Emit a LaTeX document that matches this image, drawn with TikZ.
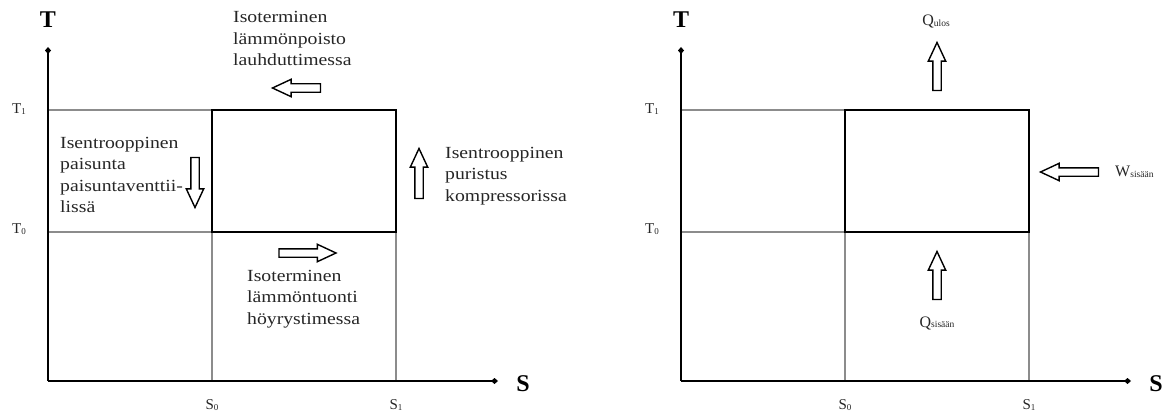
\documentclass[tikz,border=0pt]{standalone}
\usepackage{fontspec}
\setmainfont{Liberation Serif}
\newfontfamily\lblfont[FakeStretch=1.16]{Liberation Serif}
\usetikzlibrary{arrows.meta,shapes.arrows}
\newcommand{\lsub}[1]{\raisebox{-1.5pt}{\fontsize{9}{9}\selectfont #1}}
\newcommand{\qsub}[1]{\raisebox{-0.5pt}{\fontsize{9.5}{9.5}\selectfont #1}}
\tikzset{
  axisline/.style={line width=2.4pt, -{Diamond[length=7pt,width=6pt]}},
  guide/.style={line width=1.1pt, draw=black!45},
  cyclebox/.style={line width=2pt},
  barrow/.style={single arrow, draw=black, fill=white, line width=1.4pt,
    minimum height=#1, inner xsep=0pt, inner ysep=3.5pt, outer sep=0pt,
    single arrow head extend=4.5pt,
    single arrow tip angle=50, single arrow head indent=0pt},
  desc/.style={align=left, anchor=west, inner sep=0pt, text=black!85,
    font=\lblfont\fontsize{17}{21.5}\selectfont},
  axlabel/.style={inner sep=0pt, font=\bfseries\fontsize{24}{24}\selectfont},
  tick/.style={inner sep=0pt, text=black!85, font=\fontsize{15}{15}\selectfont},
  qlabel/.style={inner sep=0pt, text=black!85, font=\fontsize{16}{16}\selectfont},
}
\begin{document}
\begin{tikzpicture}[x=1pt,y=-1pt]
\useasboundingbox (0,0) rectangle (1170,412);
% ---------------- left diagram ----------------
\coordinate (LO) at (48,381);
\coordinate (LYt) at (48,47);
\coordinate (LXe) at (498,381);
\coordinate (LA) at (212,110);
\coordinate (LB) at (396,110);
\coordinate (LC) at (396,232);
\coordinate (LD) at (212,232);
\coordinate (LT1) at (48,110);
\coordinate (LT0) at (48,232);
\coordinate (LS0) at (212,381);
\coordinate (LS1) at (396,381);
\draw[guide] (LT1) -- (LA);
\draw[guide] (LT0) -- (LD);
\draw[guide] (LD) -- (LS0);
\draw[guide] (LC) -- (LS1);
\draw[cyclebox] (LA) -- (LB) -- (LC) -- (LD) -- cycle;
\draw[axisline] (LO) -- (LYt);
\draw[axisline] (LO) -- (LXe);
\node[axlabel] (lT) at (48,20) {T};
\node[axlabel] (lS) at (523,384) {S};
\node[tick] (lt1) at (19,109) {T\lsub{1}};
\node[tick] (lt0) at (19,229) {T\lsub{0}};
\node[tick] (ls0) at (212,405) {S\lsub{0}};
\node[tick] (ls1) at (396,405) {S\lsub{1}};
\node[barrow=48pt, rotate=180] (la1) at (301,88) {};
\node[barrow=50pt, rotate=-90] (la2) at (195,178) {};
\node[barrow=57pt] (la3) at (303,253) {};
\node[barrow=50pt, rotate=90] (la4) at (419,178) {};
\node[desc] (d1) at (233,38.5) {Isoterminen\\lämmönpoisto\\lauhduttimessa};
\node[desc] (d2) at (60,175) {Isentrooppinen\\paisunta\\paisuntaventtii-\\lissä};
\node[desc] (d3) at (247,299) {Isoterminen\\lämmöntuonti\\höyrystimessa};
\node[desc] (d4) at (445,176) {Isentrooppinen\\puristus\\kompressorissa};
% ---------------- right diagram ----------------
\coordinate (RO) at (681,381);
\coordinate (RYt) at (681,47);
\coordinate (RXe) at (1131,381);
\coordinate (RA) at (845,110);
\coordinate (RB) at (1029,110);
\coordinate (RC) at (1029,232);
\coordinate (RD) at (845,232);
\coordinate (RT1) at (681,110);
\coordinate (RT0) at (681,232);
\coordinate (RS0) at (845,381);
\coordinate (RS1) at (1029,381);
\draw[guide] (RT1) -- (RA);
\draw[guide] (RT0) -- (RD);
\draw[guide] (RD) -- (RS0);
\draw[guide] (RC) -- (RS1);
\draw[cyclebox] (RA) -- (RB) -- (RC) -- (RD) -- cycle;
\draw[axisline] (RO) -- (RYt);
\draw[axisline] (RO) -- (RXe);
\node[axlabel] (rT) at (681,20) {T};
\node[axlabel] (rS) at (1156,384) {S};
\node[tick] (rt1) at (652,109) {T\lsub{1}};
\node[tick] (rt0) at (652,229) {T\lsub{0}};
\node[tick] (rs0) at (845,405) {S\lsub{0}};
\node[tick] (rs1) at (1029,405) {S\lsub{1}};
\node[barrow=48pt, rotate=90] (ra1) at (937,71) {};
\node[barrow=58pt, rotate=180] (ra2) at (1074,172) {};
\node[barrow=48pt, rotate=90] (ra3) at (937,280) {};
\node[qlabel] (qout) at (936,22) {Q\qsub{ulos}};
\node[qlabel, anchor=west] (win) at (1115,172) {W\qsub{sisään}};
\node[qlabel] (qin) at (937,323) {Q\qsub{sisään}};
\end{tikzpicture}
\end{document}
